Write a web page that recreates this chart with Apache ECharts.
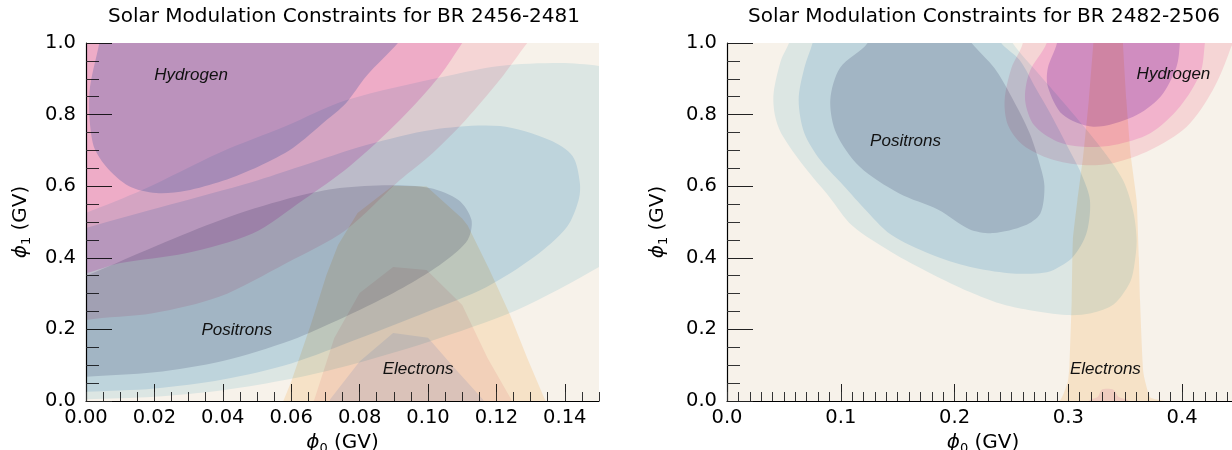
<!DOCTYPE html>
<html><head><meta charset="utf-8">
<script src="https://cdn.jsdelivr.net/npm/echarts@6/dist/echarts.min.js"></script>
<style>html,body{margin:0;padding:0;background:#fff}#c{width:1232px;height:450px}</style>
</head><body><div id="c"></div>
<script>
// ---------- titles, axes, ticks ----------
const titles = ['Solar Modulation Constraints for BR 2456-2481', 'Solar Modulation Constraints for BR 2482-2506'];
const xRangeLeft = [0, 0.15], xMajorLeft = 0.02, xMinorLeft = 0.005;
const xRangeRight = [0, 0.45], xMajorRight = 0.1, xMinorRight = 0.01;
const yRange = [0, 1], yMajor = 0.2, yMinorSplit = 4;

// ---------- region labels ----------
const leftLabelNames = ['Hydrogen', 'Positrons', 'Electrons'];
const leftLabelPos = [[0.0307, 0.911], [0.0441, 0.198], [0.0971, 0.089]];
const rightLabelNames = ['Positrons', 'Hydrogen', 'Electrons'];
const rightLabelPos = [[0.1569, 0.726], [0.3924, 0.913], [0.3326, 0.089]];

// ---------- left panel contour regions (phi0, phi1) ----------
const leftPosOuter = [[-0.02,0.0],[0,0.005],[0.02,0.012],[0.04,0.03],[0.06,0.062],[0.077,0.1],[0.1,0.165],[0.126,0.254],[0.15,0.374],[0.16,0.44],[0.166,0.6],[0.163,0.8],[0.155,0.925],[0.15,0.936],[0.1386,0.944],[0.121,0.936],[0.1056,0.908],[0.076,0.84],[0.0585,0.768],[0.0389,0.693],[0.0166,0.59],[0,0.525],[-0.02,0.45]];
const leftPosMid = [[-0.02,0.02],[0,0.026],[0.02,0.035],[0.04,0.06],[0.06,0.105],[0.08,0.175],[0.1,0.25],[0.117,0.318],[0.131,0.402],[0.1406,0.486],[0.144,0.56],[0.1444,0.609],[0.1423,0.684],[0.1355,0.729],[0.121,0.768],[0.1014,0.758],[0.082,0.715],[0.0626,0.655],[0.0487,0.612],[0.0244,0.548],[0,0.483],[-0.02,0.42]];
const leftPosInner = [[-0.02,0.06],[0,0.068],[0.02,0.08],[0.04,0.112],[0.06,0.17],[0.075,0.232],[0.0859,0.282],[0.0966,0.338],[0.1054,0.394],[0.1116,0.45],[0.1127,0.506],[0.109,0.561],[0.1005,0.595],[0.0888,0.603],[0.0742,0.595],[0.0615,0.571],[0.042,0.515],[0.0234,0.445],[0,0.35],[-0.02,0.28]];
const leftHydOuter = [[-0.02,0.18],[0,0.226],[0.0195,0.245],[0.0389,0.291],[0.0585,0.385],[0.076,0.478],[0.0918,0.617],[0.1014,0.693],[0.111,0.785],[0.121,0.897],[0.129,1.0],[0.134,1.06],[-0.02,1.06]];
const leftHydMid = [[-0.02,0.32],[0,0.357],[0.0097,0.385],[0.0292,0.413],[0.0487,0.468],[0.0634,0.561],[0.0771,0.656],[0.0918,0.785],[0.1034,0.908],[0.110,1.0],[0.114,1.06],[-0.02,1.06]];
const leftHydInner = [[0.005,1.06],[0.0039,1.0],[0.001,0.86],[0.002,0.72],[0.0058,0.656],[0.0126,0.60],[0.0205,0.581],[0.0292,0.587],[0.040,0.615],[0.0506,0.656],[0.0605,0.707],[0.070,0.782],[0.076,0.832],[0.082,0.908],[0.0912,1.0],[0.096,1.06]];
const leftEleOuter = [[0.057,-0.01],[0.0577,0.0],[0.06,0.054],[0.0657,0.212],[0.0703,0.352],[0.0737,0.436],[0.0794,0.525],[0.0897,0.601],[0.0996,0.599],[0.110,0.51],[0.1116,0.49],[0.118,0.366],[0.124,0.24],[0.129,0.12],[0.134,0.008],[0.135,-0.01]];
const leftEleMid = [[0.066,-0.01],[0.0668,0.005],[0.0726,0.176],[0.080,0.302],[0.0898,0.374],[0.0996,0.366],[0.110,0.268],[0.1174,0.12],[0.1243,0.005],[0.125,-0.01]];
const leftEleInner = [[0.071,-0.01],[0.0714,0.005],[0.080,0.11],[0.0898,0.19],[0.1,0.177],[0.107,0.1],[0.116,0.005],[0.117,-0.01]];

// ---------- right panel contour regions (phi0, phi1) ----------
const rightPosOuter = [[0.058,1.05],[0.0545,1.0],[0.0476,0.953],[0.041,0.86],[0.042,0.8],[0.0476,0.748],[0.068,0.654],[0.09,0.57],[0.11,0.49],[0.144,0.417],[0.18,0.355],[0.213,0.305],[0.24,0.272],[0.265,0.254],[0.299,0.24],[0.32,0.245],[0.34,0.27],[0.354,0.33],[0.358,0.38],[0.36,0.45],[0.357,0.53],[0.348,0.617],[0.328,0.71],[0.299,0.822],[0.275,0.91],[0.251,1.0],[0.245,1.05]];
const rightPosMid = [[0.078,1.05],[0.0752,1.0],[0.068,0.931],[0.063,0.841],[0.068,0.748],[0.082,0.673],[0.1,0.61],[0.12,0.54],[0.144,0.465],[0.179,0.41],[0.213,0.375],[0.248,0.357],[0.275,0.357],[0.287,0.366],[0.304,0.402],[0.316,0.469],[0.319,0.561],[0.312,0.63],[0.304,0.682],[0.284,0.804],[0.272,0.87],[0.257,0.953],[0.241,1.0],[0.235,1.05]];
const rightPosInner = [[0.125,1.05],[0.1236,1.0],[0.0994,0.931],[0.0908,0.841],[0.096,0.748],[0.1167,0.654],[0.151,0.58],[0.1857,0.534],[0.213,0.48],[0.234,0.469],[0.2616,0.49],[0.2754,0.524],[0.279,0.6],[0.275,0.66],[0.266,0.748],[0.25,0.85],[0.235,0.93],[0.215,1.0],[0.205,1.05]];
const rightHydOuter = [[0.258,1.05],[0.26,1.0],[0.25,0.93],[0.244,0.84],[0.247,0.77],[0.26,0.715],[0.285,0.675],[0.313,0.659],[0.34,0.665],[0.372,0.701],[0.404,0.766],[0.427,0.869],[0.442,0.98],[0.447,1.05]];
const rightHydMid = [[0.281,1.05],[0.281,1.0],[0.266,0.92],[0.262,0.841],[0.27,0.77],[0.29,0.725],[0.313,0.71],[0.34,0.715],[0.372,0.748],[0.398,0.822],[0.416,0.916],[0.42,1.0],[0.421,1.05]];
const rightHydInner = [[0.29,1.05],[0.29,1.0],[0.282,0.93],[0.282,0.878],[0.295,0.8],[0.322,0.766],[0.357,0.794],[0.381,0.85],[0.395,0.933],[0.398,1.0],[0.398,1.05]];
const rightEleOuter = [[0.28,-0.01],[0.293,0.003],[0.2996,0.054],[0.301,0.1],[0.303,0.282],[0.304,0.45],[0.308,0.561],[0.313,0.682],[0.318,0.841],[0.322,1.0],[0.323,1.05],[0.348,1.05],[0.348,1.0],[0.351,0.841],[0.355,0.682],[0.360,0.561],[0.362,0.4],[0.363,0.282],[0.366,0.078],[0.372,0.01],[0.385,0.0],[0.39,-0.01]];
const rightEleInner = [[0.315,-0.01],[0.319,0.003],[0.326,0.012],[0.329,0.031],[0.334,0.034],[0.34,0.031],[0.344,0.012],[0.352,0.003],[0.356,-0.01]];

// ---------- style ----------
const bg = '#f7f2ea';
const colPos = ['#e4f3f8', '#dcebf8', '#dadae3'];
const colEle = '#feefd9';
const colLeftEle = ['#fbebed', '#e6eeff'];
const colRightEle = '#f9e7f5';
const colLeftHyd = ['#fde1e9', '#f8ceef', '#c9d8f1'];
const colRightHyd = ['#fde1e9', '#fcd7f4', '#dbc9f0'];
const FONT = 'DejaVu Sans';

function poly(gi, pts, color, smooth) {
  return {
    type: 'custom', xAxisIndex: gi * 2, yAxisIndex: gi, clip: true, silent: true,
    blendMode: 'multiply',
    data: pts,
    renderItem: function (params, api) {
      if (params.dataIndex !== 0) return null;
      return { type: 'polygon', shape: { points: pts.map(p => api.coord(p)), smooth: smooth },
               style: { fill: color } };
    }
  };
}
function labels(gi, names, pos) {
  return {
    type: 'custom', xAxisIndex: gi * 2, yAxisIndex: gi, silent: true, z: 10,
    data: pos,
    renderItem: function (params, api) {
      const c = api.coord([api.value(0), api.value(1)]);
      return { type: 'text', x: c[0], y: c[1],
        style: { text: names[params.dataIndex], fill: '#111', fontSize: 17, fontStyle: 'italic',
                 fontFamily: 'Liberation Sans', align: 'center', verticalAlign: 'middle' } };
    }
  };
}
function axisName(sub) {
  return '{i|ϕ}{s|' + sub + '}{n| (GV)}';
}
const nameStyle = {
  fontFamily: FONT, fontSize: 20, color: '#000',
  rich: {
    i: { fontFamily: FONT, fontSize: 20, fontStyle: 'italic', lineHeight: 24, color: '#000' },
    s: { fontFamily: FONT, fontSize: 13, lineHeight: 13, verticalAlign: 'bottom', color: '#000' },
    n: { fontFamily: FONT, fontSize: 20, lineHeight: 24, color: '#000' }
  }
};
function xMain(gi, range, interval, digits) {
  return {
    gridIndex: gi, type: 'value', position: 'bottom', min: range[0], max: range[1], interval: interval,
    axisLine: { show: true, onZero: false, lineStyle: { color: '#000', width: 1.2 } },
    axisTick: { show: true, inside: true, length: 17, lineStyle: { color: '#222', width: 1 } },
    minorTick: { show: false }, splitLine: { show: false },
    axisLabel: { show: true, margin: 7, fontSize: 19.5, fontFamily: FONT, color: '#000',
                 showMaxLabel: false, formatter: v => v.toFixed(digits) },
    name: axisName('0'), nameLocation: 'middle', nameGap: 27, nameTextStyle: nameStyle
  };
}
function xMinor(gi, range, interval) {
  return {
    gridIndex: gi, type: 'value', position: 'bottom', offset: 0, min: range[0], max: range[1], interval: interval,
    axisLine: { show: false, onZero: false },
    axisTick: { show: true, inside: true, length: 9, lineStyle: { color: '#333', width: 1 } },
    axisLabel: { show: false }, splitLine: { show: false }, minorTick: { show: false }
  };
}
function yMain(gi, gap) {
  return {
    gridIndex: gi, type: 'value', position: 'left', min: yRange[0], max: yRange[1], interval: yMajor,
    axisLine: { show: true, onZero: false, lineStyle: { color: '#000', width: 1.2 } },
    axisTick: { show: true, inside: true, length: 26, lineStyle: { color: '#222', width: 1 } },
    minorTick: { show: true, splitNumber: yMinorSplit, length: 13, lineStyle: { color: '#333', width: 1 } },
    splitLine: { show: false },
    axisLabel: { show: true, margin: 10, fontSize: 19.5, fontFamily: FONT, color: '#000', formatter: v => v.toFixed(1) },
    name: axisName('1'), nameLocation: 'middle', nameGap: gap, nameRotate: 90, nameTextStyle: nameStyle
  };
}

const series = [
  poly(0, leftPosOuter, colPos[0], 0.3), poly(0, leftPosMid, colPos[1], 0.3), poly(0, leftPosInner, colPos[2], 0.3),
  poly(0, leftHydOuter, colLeftHyd[0], 0.3), poly(0, leftHydMid, colLeftHyd[1], 0.3), poly(0, leftHydInner, colLeftHyd[2], 0.3),
  poly(0, leftEleOuter, colEle, 0), poly(0, leftEleMid, colLeftEle[0], 0), poly(0, leftEleInner, colLeftEle[1], 0),
  labels(0, leftLabelNames, leftLabelPos),
  poly(1, rightPosOuter, colPos[0], 0.3), poly(1, rightPosMid, colPos[1], 0.3), poly(1, rightPosInner, colPos[2], 0.3),
  poly(1, rightHydOuter, colRightHyd[0], 0.3), poly(1, rightHydMid, colRightHyd[1], 0.3), poly(1, rightHydInner, colRightHyd[2], 0.3),
  poly(1, rightEleOuter, colEle, 0.15), poly(1, rightEleInner, colRightEle, 0.3),
  labels(1, rightLabelNames, rightLabelPos)
];

const chart = echarts.init(document.getElementById('c'), null, { renderer: 'canvas' });
chart.setOption({
  animation: false,
  backgroundColor: '#fff',
  textStyle: { fontFamily: FONT },
  title: [
    { text: titles[0], left: 344, top: 7, textAlign: 'center', padding: 0,
      textStyle: { fontFamily: FONT, fontSize: 20, fontWeight: 'normal', color: '#000' } },
    { text: titles[1], left: 984, top: 7, textAlign: 'center', padding: 0,
      textStyle: { fontFamily: FONT, fontSize: 20, fontWeight: 'normal', color: '#000' } }
  ],
  grid: [
    { left: 86, top: 43, width: 513, height: 358, show: true, backgroundColor: bg, borderWidth: 0, containLabel: false, outerBoundsMode: 'none' },
    { left: 727, top: 43, width: 512, height: 358, show: true, backgroundColor: bg, borderWidth: 0, containLabel: false, outerBoundsMode: 'none' }
  ],
  xAxis: [
    xMain(0, xRangeLeft, xMajorLeft, 2), xMinor(0, xRangeLeft, xMinorLeft),
    xMain(1, xRangeRight, xMajorRight, 1), xMinor(1, xRangeRight, xMinorRight)
  ],
  yAxis: [yMain(0, 53), yMain(1, 57)],
  series: series
});
</script></body></html>
